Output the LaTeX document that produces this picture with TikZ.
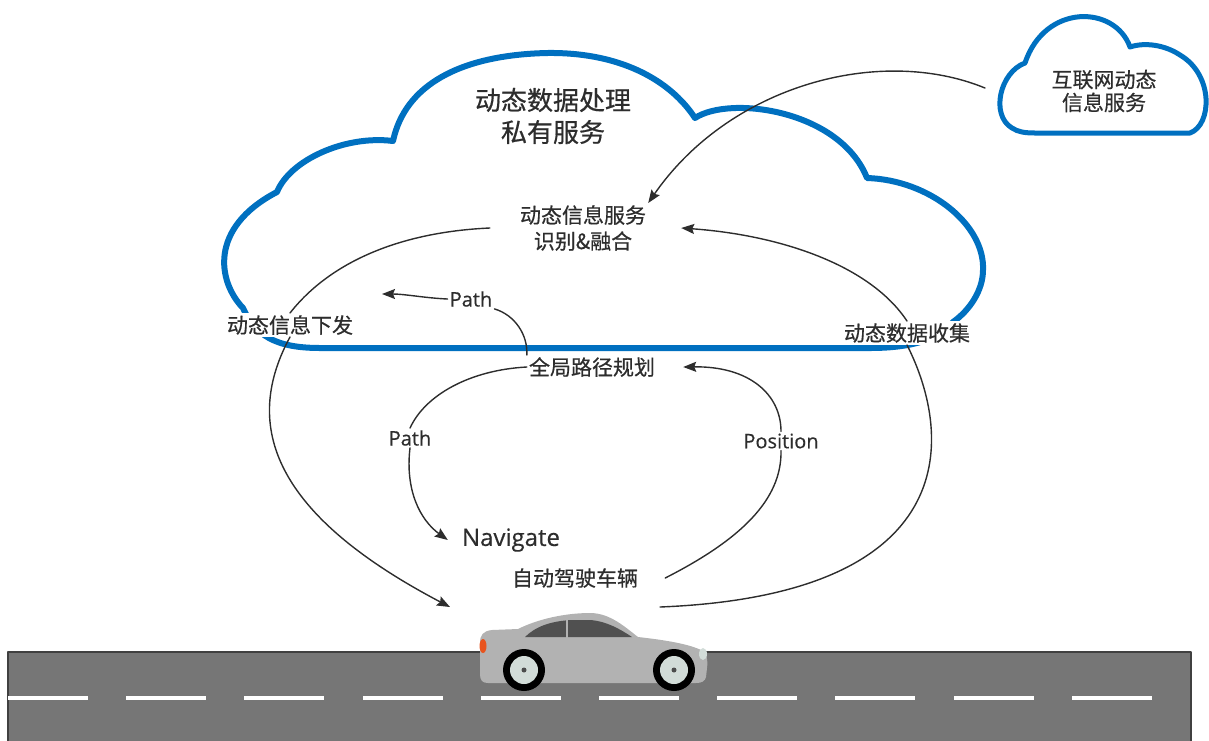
\documentclass[tikz,border=0pt]{standalone}
\usepackage{fontspec}
\setmainfont{Open Sans}[FakeBold=0.4]
\newfontfamily\cjk{Noto Sans CJK SC}[FakeBold=0.6]
\usetikzlibrary{arrows.meta}

\definecolor{cloudblue}{RGB}{0,112,192}
\definecolor{roadgray}{RGB}{118,118,118}
\definecolor{carbody}{RGB}{178,178,178}
\definecolor{carglass}{RGB}{80,80,80}
\definecolor{hubgray}{RGB}{210,220,216}
\definecolor{taillight}{RGB}{232,84,30}
\definecolor{inkgray}{RGB}{45,45,45}

\begin{document}
\begin{tikzpicture}[x=1pt, y=-1pt, line cap=round, line join=round,
    cloudline/.style={cloudblue, line width=6pt},
    flow/.style={inkgray, line width=1.4pt, -{Stealth[length=13pt,width=10pt,inset=2pt]}},
    link/.style={inkgray, line width=1.4pt},
    zh/.style={text=inkgray, font=\cjk\fontsize{21}{26}\selectfont, align=center, inner sep=2pt},
    en/.style={text=inkgray, font=\fontsize{20}{24}\selectfont, inner sep=2pt}]

\useasboundingbox (0,0) rectangle (1209,740);

% road
\fill[roadgray] (8,652) rectangle (1191,742);
\draw[black!75, line width=1.5pt] (8,742) -- (8,652) -- (1191,652) -- (1191,742);
\foreach \i in {0,...,9} {
    \fill[white] ({8+118.2*\i},696) rectangle +(80,4);
}

% car
\fill[carbody] (480,643) .. controls (480,635) and (483,631) .. (492,630) -- (518,629)
    .. controls (538,619) and (565,613) .. (590,613)
    .. controls (610,613) and (625,627) .. (638,637)
    .. controls (665,640) and (690,644) .. (703,651)
    .. controls (707,655) and (708,660) .. (707,668) -- (706,677)
    .. controls (705,681) and (702,683) .. (696,683) -- (488,683)
    .. controls (482,683) and (480,680) .. (480,674) -- cycle;
\fill[carglass] (525,637) .. controls (535,627) and (550,621) .. (572,620) -- (590,620)
    .. controls (606,621) and (620,629) .. (632,637) -- cycle;
\draw[carbody, line width=1.8pt] (567,619) -- (567,638);
\fill[taillight] (483,646) ellipse [x radius=3.5, y radius=7];
\fill[hubgray] (703,654) ellipse [x radius=4, y radius=6];
\foreach \x in {524,674} {
    \fill[black] (\x,670) circle[radius=21];
    \fill[hubgray] (\x,670) circle[radius=14];
    \fill[black!70] (\x,670) circle[radius=2.5];
}
\coordinate (carrear) at (450,607);
\coordinate (carfront) at (660,607);

% private cloud
\draw[cloudline] (320,348) -- (870,348)
    .. controls (915,348) and (940,338) .. (953,322)
    .. controls (970,310) and (983,290) .. (983,270)
    .. controls (985,225) and (930,180) .. (867,178)
    .. controls (840,110) and (730,95) .. (695,118)
    .. controls (670,80) and (620,52) .. (547,53)
    .. controls (460,55) and (405,85) .. (393,141)
    .. controls (345,135) and (290,160) .. (277,192)
    .. controls (208,228) and (218,282) .. (243,308)
    .. controls (255,335) and (275,348) .. (320,348) -- cycle;

% internet cloud
\draw[cloudline, line width=5pt] (1035,133) -- (1190,133)
    .. controls (1212,125) and (1214,75) .. (1180,55)
    .. controls (1165,45) and (1145,42) .. (1130,47)
    .. controls (1115,5) and (1045,3) .. (1025,63)
    .. controls (1000,72) and (990,115) .. (1012,128)
    .. controls (1018,132) and (1025,133) .. (1035,133) -- cycle;

\node[zh, font=\cjk\fontsize{26}{32}\selectfont] (title) at (553,116) {动态数据处理\\私有服务};
\node[zh, font=\cjk\fontsize{21}{23}\selectfont] (inet) at (1104,91) {互联网动态\\信息服务};
\node[zh] (fusion) at (583,228) {动态信息服务\\识别\&融合};
\node[zh, fill=white] (issue) at (290,325) {动态信息下发};
\node[zh, fill=white] (collect) at (907,333) {动态数据收集};
\node[zh] (plan) at (592,367) {全局路径规划};
\node[zh] (vehicle) at (575,578) {自动驾驶车辆};
\node[en] (pathup) at (471,299) {Path};
\node[en] (pathdn) at (410,438) {Path};
\node[en] (pos) at (781,441) {Position};
\node[en, font=\fontsize{24}{28}\selectfont] (nav) at (511,540) {Navigate};

\coordinate (inetport) at (985,88);
\coordinate (cloudin) at (382,294);

\draw[flow] (inetport) .. controls (880,45) and (730,85) .. (fusion.north east);
\draw[link] ([xshift=-28pt]fusion.west) .. controls (400,232) and (330,262) .. (issue.north);
\draw[flow] (issue.south) .. controls (245,420) and (265,510) .. (carrear);
\draw[link] (carfront) .. controls (960,595) and (955,440) .. (collect.south);
\draw[flow] (collect.north) .. controls (870,265) and (780,235) .. ([xshift=33pt]fusion.east);

\draw[link] (plan.north west) .. controls (528,335) and (515,315) .. (pathup.south east);
\draw[flow] (pathup.west) .. controls (425,298) and (405,294) .. (cloudin);
\draw[link] (plan.west) .. controls (470,370) and (425,395) .. (pathdn.north);
\draw[flow] (pathdn.south) .. controls (405,490) and (420,520) .. ([xshift=-12pt]nav.west);
\draw[link] ([xshift=25pt]vehicle.east) .. controls (740,540) and (782,500) .. (pos.south);
\draw[flow] (pos.north) .. controls (781,395) and (750,366) .. ([xshift=26pt]plan.east);

\end{tikzpicture}
\end{document}
